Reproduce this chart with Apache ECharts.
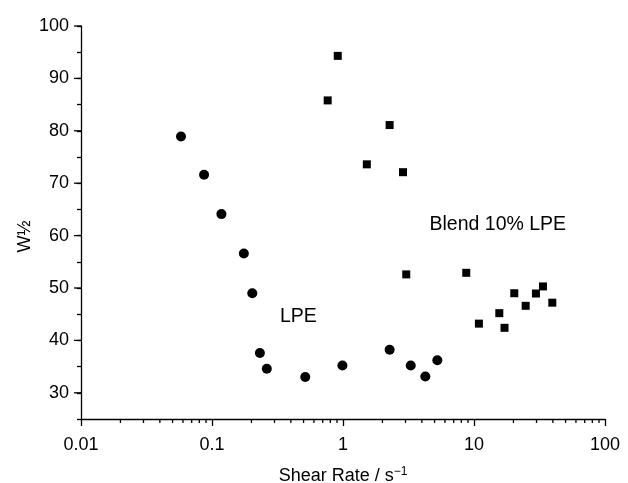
<!DOCTYPE html>
<html>
<head>
<meta charset="utf-8">
<script src="https://cdn.jsdelivr.net/npm/echarts@6/dist/echarts.min.js"></script>
<style>html,body{margin:0;padding:0;background:#fff}#c{width:628px;height:483px}</style>
</head>
<body>
<div id="c"></div>
<script>
// LPE (circles)
const lpeX = [0.058, 0.087, 0.118, 0.175, 0.203, 0.232, 0.262, 0.515, 0.99, 2.27, 3.29, 4.25, 5.25];
const lpeY = [78.9, 71.6, 64.1, 56.6, 49.0, 37.6, 34.6, 33.0, 35.2, 38.2, 35.2, 33.1, 36.2];
// Blend 10% LPE (squares)
const blendX = [0.912, 0.764, 2.27, 1.52, 2.87, 3.04, 8.73, 10.9, 15.6, 17.1, 20.3, 24.8, 29.7, 33.6, 39.6];
const blendY = [94.3, 85.8, 81.1, 73.6, 72.1, 52.6, 52.9, 43.2, 45.2, 42.4, 49.0, 46.6, 48.95, 50.3, 47.2];
// axis ticks
const xMajorTicks = [0.01, 0.1, 1, 10, 100];
const xMinorTicks = [];
[0.01, 0.1, 1, 10].forEach(d => { for (let k = 2; k <= 9; k++) xMinorTicks.push(+(d * k).toPrecision(3)); });
const yMajorTicks = [30, 40, 50, 60, 70, 80, 90, 100];
const yMin = 25, yMax = 100;
// annotations [x, y, text]
const annoLPE = [0.456, 44.6, 'LPE'];
const annoBlend = [15.2, 62.0, 'Blend 10% LPE'];

const FONT = 'Liberation Sans, Arial, Helvetica, sans-serif';
const chart = echarts.init(document.getElementById('c'));
const zip = (a, b) => a.map((v, i) => [v, b[i]]);

chart.setOption({
  animation: false,
  backgroundColor: '#fff',
  textStyle: { fontFamily: FONT, color: '#000' },
  grid: { left: 81, right: 23, top: 26, bottom: 64, containLabel: false, outerBoundsMode: 'none' },
  xAxis: {
    type: 'log', logBase: 10, min: 0.01, max: 100,
    axisLine: { show: true, lineStyle: { color: '#000', width: 1.3 } },
    axisTick: { show: true, length: 7, inside: false, lineStyle: { color: '#000', width: 1.3 } },
    axisLabel: { color: '#000', fontSize: 18, fontFamily: FONT, margin: 17,
      formatter: v => { const r = xMajorTicks.find(t => Math.abs(t - v) / t < 1e-6); return r === undefined ? '' : String(r); } },
    splitLine: { show: false },
    name: 'Shear Rate / s{sup|−1}', nameLocation: 'middle', nameGap: 47, nameMoveOverlap: false,
    nameTextStyle: { color: '#000', fontSize: 18, fontFamily: FONT,
      rich: { sup: { fontSize: 12, verticalAlign: 'top', padding: [0, 0, 8, 0], fontFamily: FONT, color: '#000' } } }
  },
  yAxis: {
    type: 'value', min: yMin, max: yMax, interval: 5,
    axisLine: { show: true, lineStyle: { color: '#000', width: 1.3 } },
    axisTick: { show: true, length: 4, lineStyle: { color: '#000', width: 1.3 } },
    axisLabel: { color: '#000', fontSize: 18, fontFamily: FONT, margin: 12,
      formatter: v => (yMajorTicks.indexOf(v) >= 0 ? String(v) : '') },
    splitLine: { show: false },
    name: 'W½', nameLocation: 'middle', nameGap: 47, nameRotate: 90, nameMoveOverlap: false,
    nameTextStyle: { color: '#000', fontSize: 18, fontFamily: FONT, padding: [0, 28, 0, 0] }
  },
  series: [
    {
      name: 'LPE', type: 'scatter', symbol: 'circle', symbolSize: 10,
      itemStyle: { color: '#000', opacity: 1 }, data: zip(lpeX, lpeY),
      markPoint: {
        symbol: 'circle', symbolSize: 0, silent: true,
        label: { show: true, position: 'inside', color: '#000', fontSize: 19.5, fontFamily: FONT, formatter: p => p.name },
        data: [
          { name: annoLPE[2], coord: [annoLPE[0], annoLPE[1]] },
          { name: annoBlend[2], coord: [annoBlend[0], annoBlend[1]] }
        ]
      }
    },
    {
      name: 'Blend 10% LPE', type: 'scatter', symbol: 'rect', symbolSize: 8,
      itemStyle: { color: '#000', opacity: 1 }, data: zip(blendX, blendY)
    },
    {
      name: 'xMinor', type: 'custom', silent: true, clip: false,
      data: xMinorTicks.map(v => [v, yMin]),
      encode: { x: 0, y: 1 },
      renderItem: (params, api) => {
        const p = api.coord([api.value(0), api.value(1)]);
        return { type: 'line', shape: { x1: p[0], y1: p[1], x2: p[0], y2: p[1] + 4 },
          style: { stroke: '#000', lineWidth: 1.3 } };
      }
    },
    {
      name: 'yMajor', type: 'custom', silent: true, clip: false,
      data: yMajorTicks.map(v => [0.01, v]),
      encode: { x: 0, y: 1 },
      renderItem: (params, api) => {
        const p = api.coord([api.value(0), api.value(1)]);
        return { type: 'line', shape: { x1: p[0] - 7, y1: p[1], x2: p[0], y2: p[1] },
          style: { stroke: '#000', lineWidth: 1.3 } };
      }
    }
  ]
});
</script>
</body>
</html>
